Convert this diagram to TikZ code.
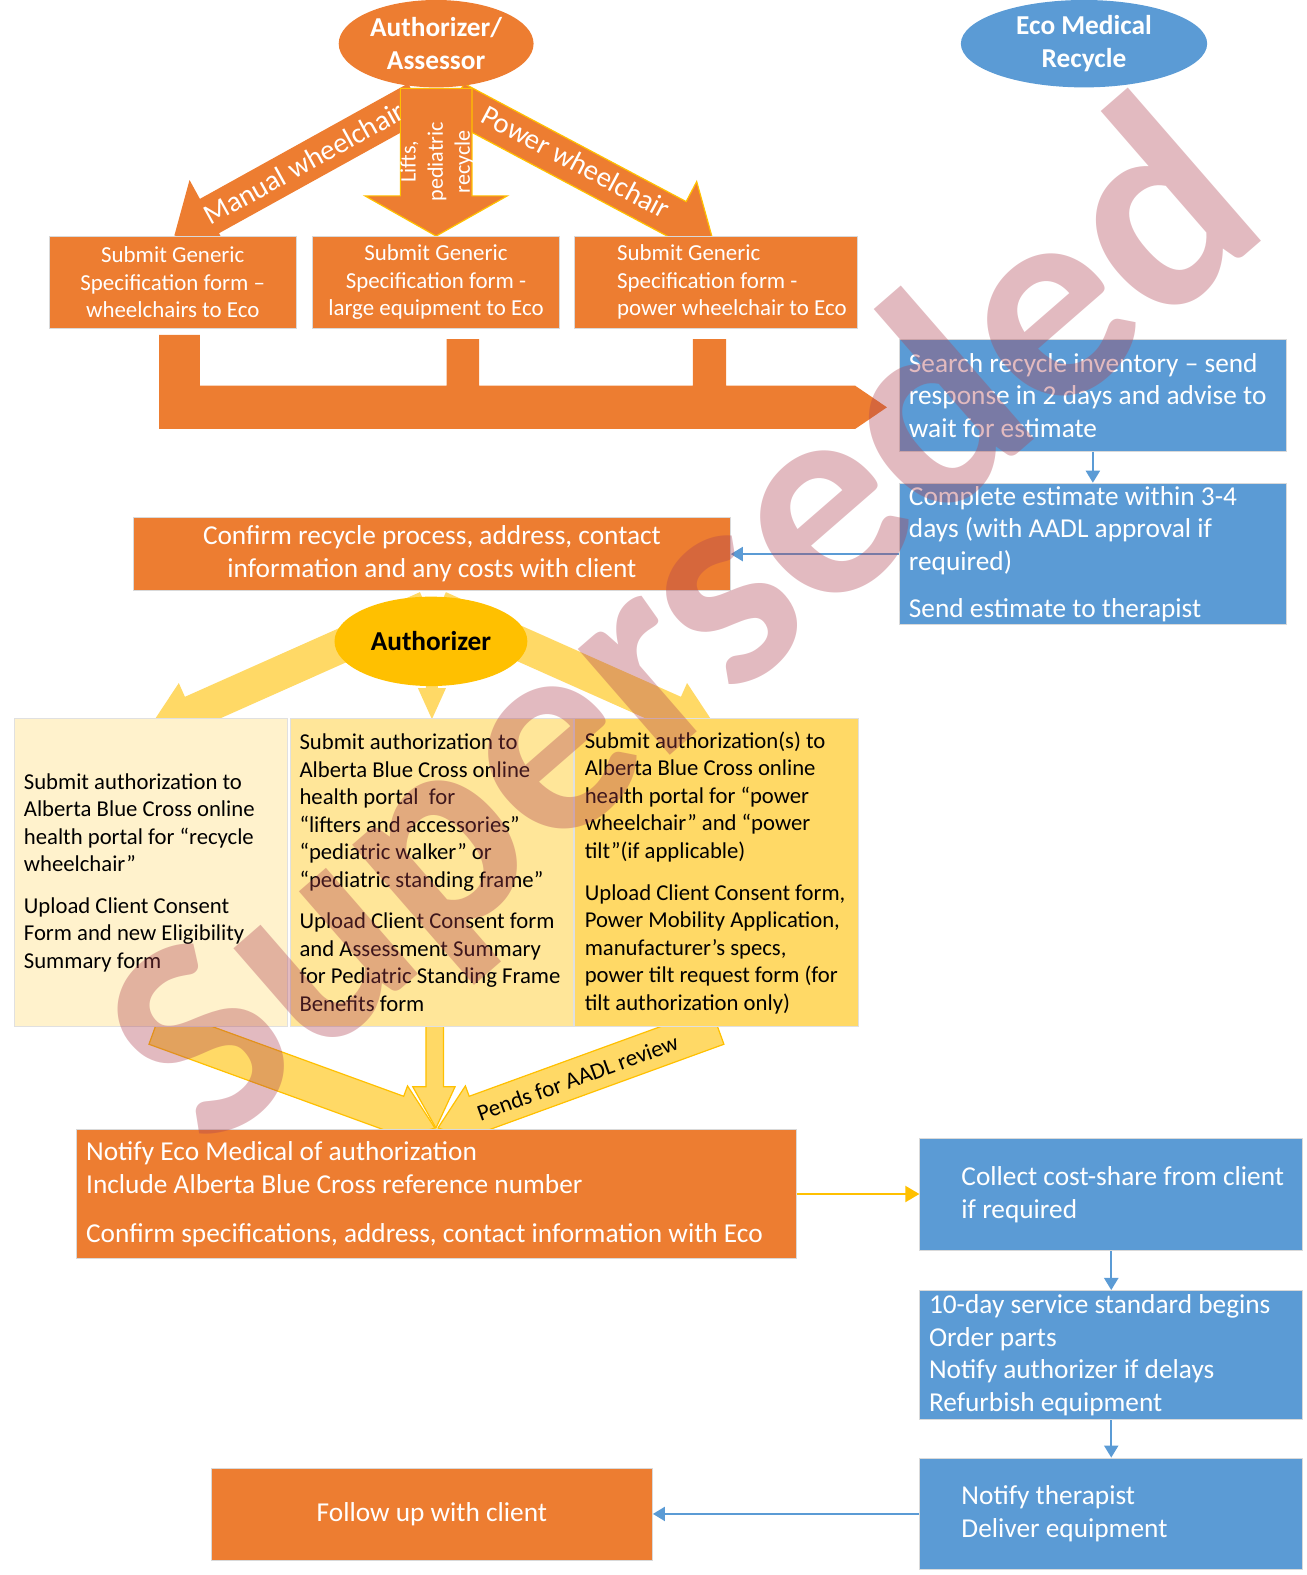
\documentclass[tikz,border=0pt]{standalone}
\usepackage{fontspec}
\setmainfont{Carlito}
\usetikzlibrary{shapes.geometric,arrows.meta}

\definecolor{ecoorange}{RGB}{237,125,49}
\definecolor{ecoblue}{RGB}{91,155,213}
\definecolor{authgold}{RGB}{255,192,0}
\definecolor{paleyellow}{RGB}{255,242,204}
\definecolor{softyellow}{RGB}{255,230,153}
\definecolor{midyellow}{RGB}{255,217,102}
\definecolor{stampred}{RGB}{175,65,80}

\tikzset{
  orangebox/.style={rectangle, fill=ecoorange, draw=black!15, line width=0.5pt, inner sep=0pt},
  bluebox/.style={rectangle, fill=ecoblue, draw=black!15, line width=0.5pt, inner sep=0pt},
  formbox/.style={rectangle, draw=black!12, line width=0.5pt, inner sep=0pt, minimum height=153.2pt},
  titletext/.style={text=white, inner sep=0pt, align=center, font=\bfseries\fontsize{13.6}{16.5}\selectfont},
  whitetext/.style={text=white, inner sep=0pt, font=\fontsize{13.6}{16.2}\selectfont},
  spectext/.style={text=white, inner sep=0pt, font=\fontsize{11.4}{13.7}\selectfont},
  formtext/.style={text=black, inner sep=0pt, align=left, font=\fontsize{11.3}{13.7}\selectfont},
  arrowtext/.style={text=white, inner sep=0pt, font=\fontsize{14.3}{16}\selectfont},
  blockarrow/.style={fill=ecoorange, draw=authgold, line width=0.6pt},
  goldblock/.style={fill=midyellow, draw=authgold, line width=0.6pt},
  bluearrow/.style={ecoblue, line width=1pt, -{Triangle[width=7pt,length=6pt]}},
  goldarrow/.style={authgold, line width=1pt, -{Triangle[width=8pt,length=7pt]}},
}

\begin{document}
\begin{tikzpicture}[x=0.5pt, y=-0.5pt]
    \useasboundingbox (0,0) rectangle (1301,1568);

    % Block arrows out of the assessor
    \fill[ecoorange] (406.3,83.1) -- (199,198) -- (188.7,179.2) -- (173.6,234.4) -- (228.4,251) -- (218,232.2) -- (425.3,117.4) -- cycle;
    \draw[blockarrow] (462,83.2) -- (683.1,200.7) -- (693.6,180.8) -- (709.1,236.7) -- (654.2,255.2) -- (664.7,235.3) -- (443.7,117.9) -- cycle;
    \draw[blockarrow] (398.6,88) -- (398.6,195) -- (363.3,195) -- (434.2,235) -- (505,195) -- (469.8,195) -- (469.8,88) -- cycle;
    \node[arrowtext, rotate=29] (manualtxt) at (302.7,162.3) {Manual wheelchair};
    \node[arrowtext, rotate=-28] (powertxt) at (573.4,161) {Power wheelchair};
    \node[text=white, inner sep=0pt, align=center, rotate=90, font=\fontsize{11}{13.5}\selectfont] (liftstxt) at (435,161) {Lifts,\\pediatric\\recycle};

    % Assessor
    \node[ellipse, fill=ecoorange, minimum width=97pt, minimum height=43.5pt, inner sep=0pt] (assessor) at (434.2,43.5) {};
    \node[titletext] (assessortxt) at (assessor) {Authorizer/\\Assessor};

    % Specification forms
    \node[orangebox, minimum width=123pt, minimum height=46pt, spectext, align=center] (sub1) at (172,281) {Submit Generic\\Specification form –\\wheelchairs to Eco};
    \node[orangebox, minimum width=123pt, minimum height=46pt, spectext, align=center] (sub2) at (434,281) {Submit Generic\\Specification form -\\large equipment to Eco};
    \node[orangebox, minimum width=141pt, minimum height=46pt] (sub3) at (713,281) {};
    \node[spectext, align=left, anchor=west] (sub3txt) at ([xshift=21.25pt]sub3.west) {Submit Generic\\Specification form -\\power wheelchair to Eco};

    % Joined connector to Eco Medical
    \fill[ecoorange] (158.3,333.5) -- (198.9,333.5) -- (198.9,384) -- (444.6,384) -- (444.6,337.5) -- (477.1,337.5) -- (477.1,384) -- (689.7,384) -- (689.7,337.5) -- (722.9,337.5) -- (722.9,384) -- (851.4,384) -- (883,405.5) -- (851.4,427) -- (158.3,427) -- cycle;

    % Eco Medical side
    \node[ellipse, fill=ecoblue, minimum width=122.6pt, minimum height=43.5pt, inner sep=0pt] (eco) at (1079.2,43.5) {};
    \node[titletext] (ecotxt) at (eco) {Eco Medical\\Recycle};
    \node[bluebox, minimum width=193pt, minimum height=55.6pt] (search) at (1088,393.4) {};
    \node[whitetext, align=left, anchor=west] (searchtxt) at ([xshift=5pt]search.west) {Search recycle inventory – send\\response in 2 days and advise to\\wait for estimate};
    \node[bluebox, minimum width=193pt, minimum height=70.5pt] (estimate) at (1088,551.6) {};
    \node[whitetext, align=left, anchor=west] (estimatetxt) at ([xshift=5pt]estimate.west) {Complete estimate within 3-4\\days (with AADL approval if\\required)\\[7.1pt]Send estimate to therapist};
    \draw[bluearrow] (search) -- (estimate);

    % Confirm with client
    \node[orangebox, minimum width=297pt, minimum height=36.5pt, whitetext, align=center] (confirm) at (430,551.5) {Confirm recycle process, address, contact\\information and any costs with client};
    \draw[bluearrow] (estimate.west) -- (estimate.west -| confirm.east);

    % Arrows out of the authorizer
    \fill[midyellow] (418.1,589.5) -- (184.1,693.7) -- (178,680) -- (145.3,729.5) -- (204,738.4) -- (197.9,724.7) -- (431.9,620.5) -- cycle;
    \fill[midyellow] (443.9,589.5) -- (677.9,693.7) -- (684,680) -- (716.7,729.5) -- (658,738.4) -- (664.1,724.7) -- (430.1,620.5) -- cycle;
    \fill[midyellow] (424,660) -- (436,660) -- (436,685) -- (444,685) -- (430,716) -- (416,685) -- (424,685) -- cycle;
    \node[ellipse, fill=authgold, minimum width=96pt, minimum height=44.5pt, inner sep=0pt, font=\bfseries\fontsize{13.6}{16}\selectfont] (authorizer) at (429,638.5) {Authorizer};

    % Arrows into the notification
    \draw[goldblock] (161.3,1003.8) -- (401.9,1091.4) -- (405.7,1081.1) -- (433,1123) -- (385.1,1137.5) -- (388.9,1127.2) -- (148.3,1039.6) -- cycle;
    \draw[goldblock] (707.7,1003.8) -- (467.1,1091.4) -- (463.3,1081.1) -- (436,1123) -- (483.9,1137.5) -- (480.1,1127.2) -- (720.7,1039.6) -- cycle;
    \draw[goldblock] (424,1010) -- (441.5,1010) -- (441.5,1082) -- (453,1082) -- (434,1123) -- (411,1082) -- (424,1082) -- cycle;
    \node[rotate=20, inner sep=0pt, font=\fontsize{11.5}{13}\selectfont] (pendstxt) at (575,1073) {Pends for AADL review};

    % Portal submissions
    \node[formbox, fill=paleyellow, minimum width=136pt] (recyclewc) at (150.6,868.9) {};
    \node[formtext, anchor=west] (recyclewctxt) at ([xshift=4.65pt]recyclewc.west) {Submit authorization to\\Alberta Blue Cross online\\health portal for “recycle\\wheelchair”\\[7pt]Upload Client Consent\\Form and new Eligibility\\Summary form};
    \node[formbox, fill=softyellow, minimum width=141pt] (liftform) at (430,868.9) {};
    \node[formtext, anchor=west] (liftformtxt) at ([xshift=4.65pt]liftform.west) {Submit authorization to\\Alberta Blue Cross online\\health portal\ \ for\\“lifters and accessories”\\“pediatric walker” or\\“pediatric standing frame”\\[7pt]Upload Client Consent form\\and Assessment Summary\\for Pediatric Standing Frame\\Benefits form};
    \node[formbox, fill=midyellow, minimum width=141.2pt] (powerform) at (713.2,868.9) {};
    \node[formtext, anchor=west] (powerformtxt) at ([xshift=5.15pt]powerform.west) {Submit authorization(s) to\\Alberta Blue Cross online\\health portal for “power\\wheelchair” and “power\\tilt”(if applicable)\\[7pt]Upload Client Consent form,\\Power Mobility Application,\\manufacturer’s specs,\\power tilt request form (for\\tilt authorization only)};

    % Notify Eco Medical
    \node[orangebox, minimum width=358pt, minimum height=64pt] (notify) at (434.5,1188.7) {};
    \node[whitetext, align=left, anchor=west] (notifytxt) at ([xshift=4.7pt]notify.west) {Notify Eco Medical of authorization\\Include Alberta Blue Cross reference number\\[8.25pt]Confirm specifications, address, contact information with Eco};

    % Delivery
    \node[bluebox, minimum width=190.5pt, minimum height=55.6pt] (collect) at (1106.3,1189.4) {};
    \node[whitetext, align=left, anchor=west] (collecttxt) at ([xshift=20.75pt]collect.west) {Collect cost-share from client\\if required};
    \draw[goldarrow] (notify.east) -- (notify.east -| collect.west);
    \node[bluebox, minimum width=190.5pt, minimum height=64.2pt] (service) at (1106.3,1349) {};
    \node[whitetext, align=left, anchor=west] (servicetxt) at ([xshift=4.6pt]service.west) {10-day service standard begins\\Order parts\\Notify authorizer if delays\\Refurbish equipment};
    \draw[bluearrow] (collect) -- (service);
    \node[bluebox, minimum width=190.5pt, minimum height=55.6pt] (deliver) at (1106.3,1507.2) {};
    \node[whitetext, align=left, anchor=west] (delivertxt) at ([xshift=20.75pt]deliver.west) {Notify therapist\\Deliver equipment};
    \draw[bluearrow] (service) -- (deliver);
    \node[orangebox, minimum width=219.5pt, minimum height=46pt, whitetext] (follow) at (430,1507.6) {Follow up with client};
    \draw[bluearrow] (deliver.west) -- (deliver.west -| follow.east);

    % Watermark
    \node[rotate=41, text=stampred, opacity=0.36, inner sep=0pt, font=\bfseries\fontsize{144}{144}\selectfont] (stamp) at (688,630) {Superseded};
\end{tikzpicture}
\end{document}
